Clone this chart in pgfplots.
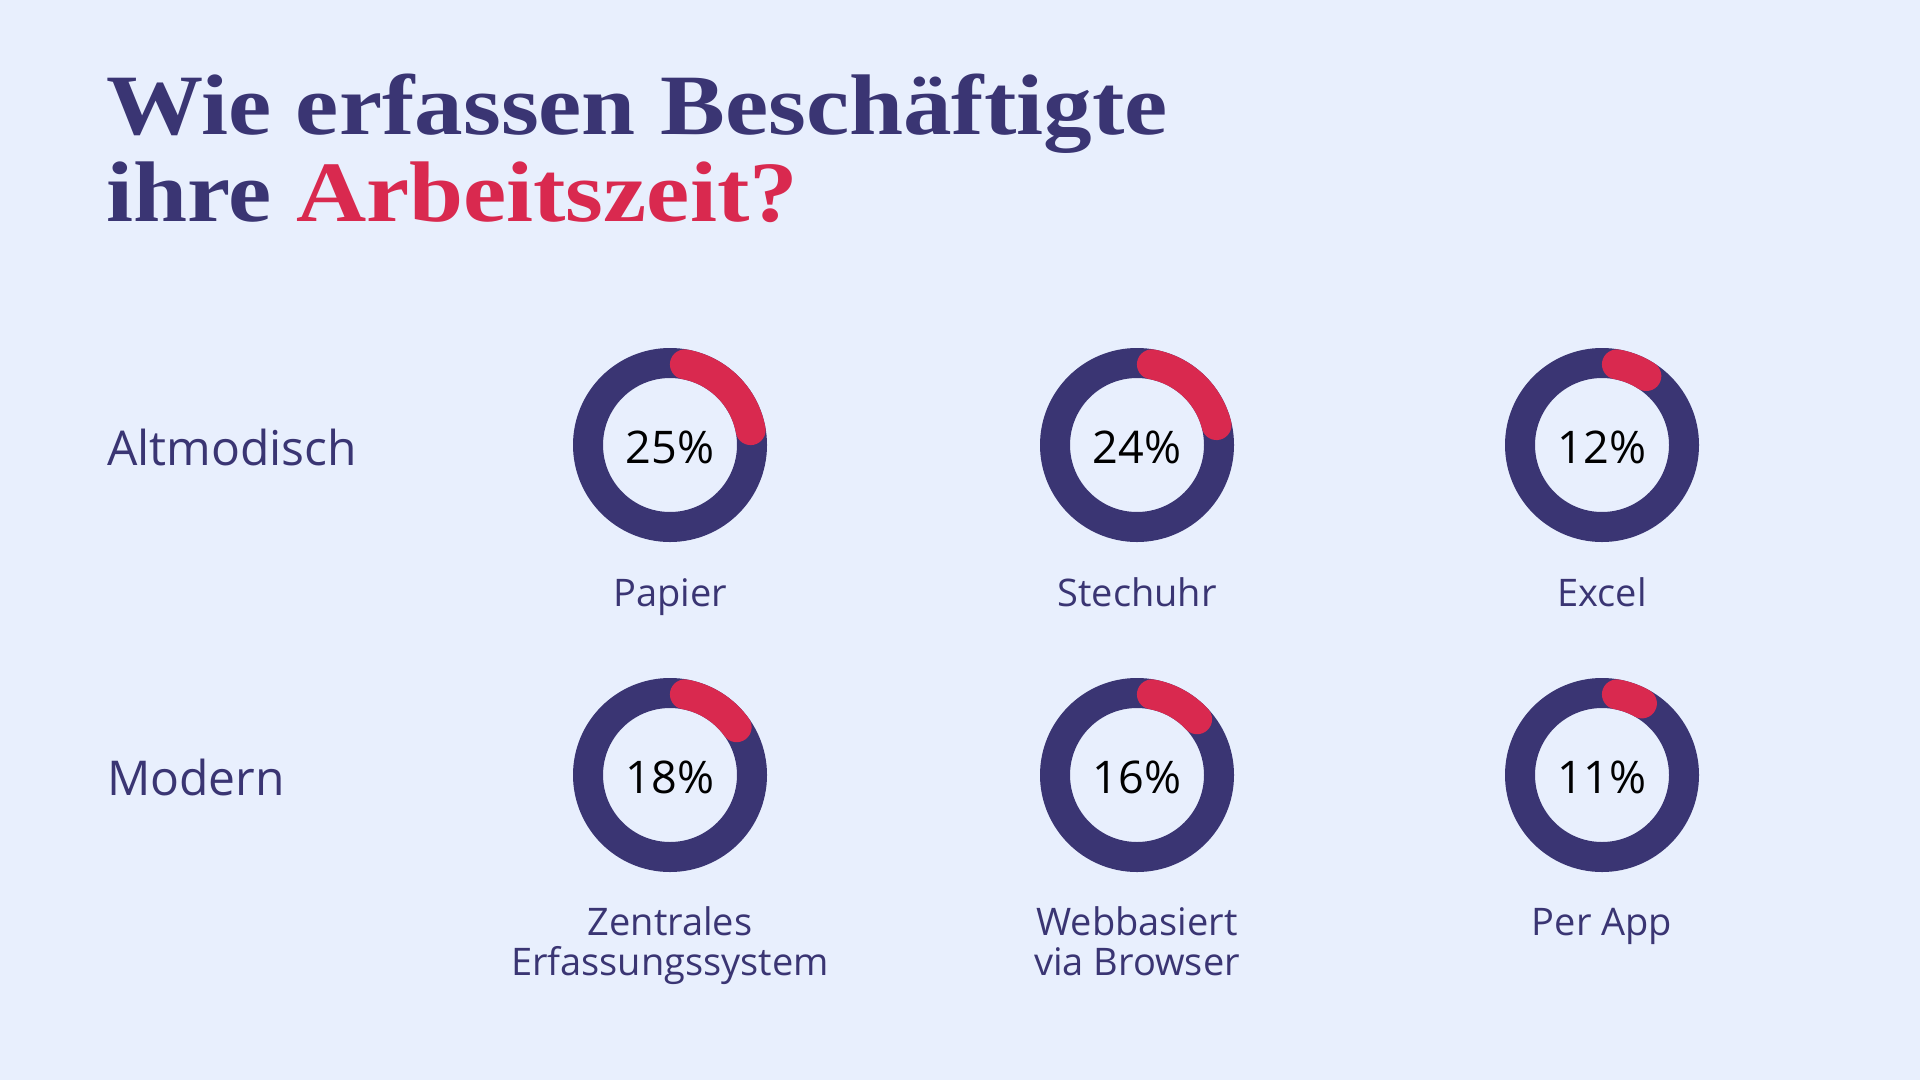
\documentclass[border=0pt]{standalone}
\usepackage{pgfplots}
\pgfplotsset{compat=1.18}
\usepackage{pgfplotstable}
\usepackage{fontspec}
\setmainfont{Open Sans}
\newfontfamily\titlefont{Liberation Serif}[FakeStretch=1.13]
\definecolor{bgc}{HTML}{E8EFFD}
\definecolor{navy}{HTML}{3A3573}
\definecolor{redc}{HTML}{D9294F}
\newcommand\lblfont{\fontsize{48pt}{50pt}\selectfont}
\newcommand\pctfont{\fontsize{45pt}{47pt}\selectfont}
\newcommand\catfont{\fontsize{38pt}{40pt}\selectfont}
\newcommand\ttlfont{\titlefont\bfseries\fontsize{86pt}{87pt}\selectfont}
% red arc mark: clockwise from the top, length = pct of the full turn (caps included)
\pgfdeclareplotmark{redarc}{%
  \pgfsetroundcap
  \pgfmathsetmacro\endang{90-3.6*\pct+10.48}%
  \pgfpathmoveto{\pgfpointpolar{79.52}{82pt}}%
  \pgfpatharc{79.52}{\endang}{82pt}%
  \pgfusepathqstroke}
\pgfplotstableread{
cx cy pct
670 445 25
1137 445 24
1602 445 12
670 775 18
1137 775 16
1602 775 11
}\donuts
\begin{document}
\begin{tikzpicture}
\path[use as bounding box] (0,0) rectangle (1920pt,1080pt);
\fill[bgc] (0,0) rectangle (1920pt,1080pt);
\begin{axis}[at={(0pt,0pt)}, anchor=south west, width=1920pt, height=1080pt,
  scale only axis, xmin=0, xmax=1920, ymin=0, ymax=1080, y dir=reverse,
  hide axis, clip=false]
\addplot[only marks, mark=o, mark size=82pt,
  mark options={draw=navy, line width=30pt},
  point meta=\thisrow{pct},
  nodes near coords={\pgfmathprintnumber[assume math mode=true]{\pgfplotspointmeta}\%},
  every node near coord/.append style={font=\pctfont, text=black, anchor=base, yshift=-18pt, inner sep=0pt}]
  table[x=cx,y=cy]{\donuts};
\addplot[scatter, only marks, mark=redarc,
  scatter/use mapped color={draw=redc},
  mark options={line width=30pt, line cap=round},
  visualization depends on={\thisrow{pct}\as\pct}]
  table[x=cx,y=cy]{\donuts};
% title
\node[anchor=base west, inner sep=0pt, text=navy, font=\ttlfont] at (axis cs:106,134) {Wie erfassen Beschäftigte};
\node[anchor=base west, inner sep=0pt, text=navy, font=\ttlfont] at (axis cs:106,221) {ihre \textcolor{redc}{Arbeitszeit?}};
% row labels
\node[anchor=base west, inner sep=0pt, text=navy, font=\lblfont] at (axis cs:107,465) {Altmodisch};
\node[anchor=base west, inner sep=0pt, text=navy, font=\lblfont] at (axis cs:107,795) {Modern};
% category labels
\node[anchor=base, inner sep=0pt, text=navy, font=\catfont] at (axis cs:670,606) {Papier};
\node[anchor=base, inner sep=0pt, text=navy, font=\catfont] at (axis cs:1137,606) {Stechuhr};
\node[anchor=base, inner sep=0pt, text=navy, font=\catfont] at (axis cs:1602,606) {Excel};
\node[anchor=base, inner sep=0pt, text=navy, font=\catfont] at (axis cs:670,935) {Zentrales};
\node[anchor=base, inner sep=0pt, text=navy, font=\catfont] at (axis cs:670,975) {Erfassungssystem};
\node[anchor=base, inner sep=0pt, text=navy, font=\catfont] at (axis cs:1137,935) {Webbasiert};
\node[anchor=base, inner sep=0pt, text=navy, font=\catfont] at (axis cs:1137,975) {via Browser};
\node[anchor=base, inner sep=0pt, text=navy, font=\catfont] at (axis cs:1602,935) {Per App};
\end{axis}
\end{tikzpicture}
\end{document}
